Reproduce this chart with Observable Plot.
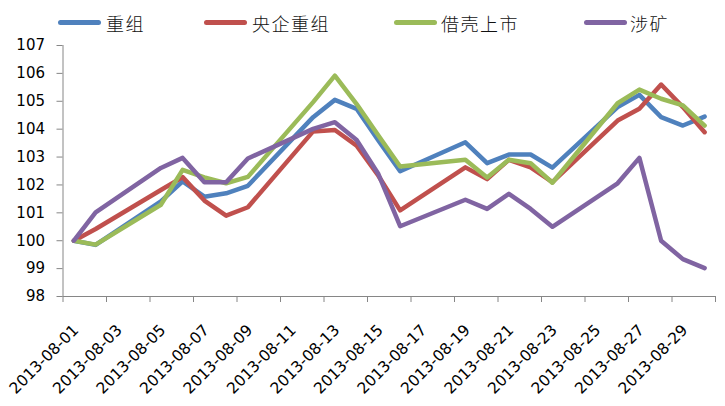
<!DOCTYPE html>
<html><head><meta charset="utf-8">
<script src="https://cdn.jsdelivr.net/npm/d3@7"></script>
<script src="https://cdn.jsdelivr.net/npm/@observablehq/plot@0.6"></script>
<style>
body{margin:0;background:#fff;}
#legend{position:relative;height:36px;width:725px;font-family:"Noto Sans CJK SC",sans-serif;}
.sw{position:absolute;height:5px;border-radius:2.5px;top:20px;width:43px;}
.lb{position:absolute;top:11px;font-size:18px;letter-spacing:1.5px;line-height:24px;color:#111;white-space:nowrap;font-weight:300;}
</style></head><body>
<div id="legend"></div>
<div id="chart"></div>
<script>
const series = ["重组", "央企重组", "借壳上市", "涉矿"];
const colors = ["#4F81BD", "#C0504D", "#9BBB59", "#8064A2"];
const dates = ["2013-08-01","2013-08-02","2013-08-05","2013-08-06","2013-08-07","2013-08-08","2013-08-09",
  "2013-08-12","2013-08-13","2013-08-14","2013-08-15","2013-08-16","2013-08-19","2013-08-20","2013-08-21",
  "2013-08-22","2013-08-23","2013-08-26","2013-08-27","2013-08-28","2013-08-29","2013-08-30"];
const chongzu = [100, 99.85, 101.41, 102.13, 101.58, 101.70, 101.97, 104.43, 105.05, 104.73, 103.59, 102.49,
  103.53, 102.78, 103.09, 103.09, 102.62, 104.79, 105.23, 104.43, 104.13, 104.45];
const yangqi = [100, 100.42, 101.82, 102.28, 101.44, 100.90, 101.20, 103.92, 103.97, 103.41, 102.33, 101.09,
  102.63, 102.21, 102.90, 102.63, 102.10, 104.31, 104.73, 105.60, 104.79, 103.89];
const jieke = [100, 99.86, 101.29, 102.54, 102.27, 102.06, 102.29, 104.97, 105.92, 104.90, 103.77, 102.66,
  102.90, 102.27, 102.90, 102.78, 102.08, 104.93, 105.42, 105.09, 104.85, 104.13];
const shekuang = [100, 101.02, 102.61, 102.97, 102.10, 102.10, 102.95, 104.01, 104.25, 103.61, 102.39, 100.52,
  101.47, 101.14, 101.68, 101.14, 100.50, 102.06, 102.97, 100.00, 99.34, 99.02];
const tickLabels = ["2013-08-01","2013-08-03","2013-08-05","2013-08-07","2013-08-09","2013-08-11","2013-08-13",
  "2013-08-15","2013-08-17","2013-08-19","2013-08-21","2013-08-23","2013-08-25","2013-08-27","2013-08-29"];
const tickBounds = [...tickLabels, "2013-08-31"];
const yTicks = [98, 99, 100, 101, 102, 103, 104, 105, 106, 107];
const xDomain = ["2013-08-01", "2013-08-31"];

// legend (HTML)
const swLeft = [58, 204, 394, 584];
const lbLeft = [106, 252, 441, 630];
const legend = document.getElementById("legend");
series.forEach((s, i) => {
  const sw = document.createElement("div");
  sw.className = "sw"; sw.style.left = swLeft[i] + "px"; sw.style.background = colors[i];
  const lb = document.createElement("div");
  lb.className = "lb"; lb.style.left = lbLeft[i] + "px"; lb.textContent = s;
  legend.appendChild(sw); legend.appendChild(lb);
});

const parse = d3.utcParse("%Y-%m-%d");
const mid = s => d3.utcHour.offset(parse(s), 12);
const valueLists = [chongzu, yangqi, jieke, shekuang];
const rows = [];
series.forEach((s, i) => dates.forEach((d, j) => rows.push({series: s, date: mid(d), value: valueLists[i][j]})));

const axisColor = "#868686";
const fmt = d3.utcFormat("%Y-%m-%d");

const chart = Plot.plot({
  width: 725,
  height: 370,
  marginTop: 9,
  marginBottom: 110,
  marginLeft: 62.5,
  marginRight: 10,
  style: {fontFamily: "DejaVu Sans", background: "#fff"},
  x: {type: "utc", domain: xDomain.map(parse)},
  y: {domain: [98, 107]},
  color: {domain: series, range: colors},
  marks: [
    Plot.axisY(yTicks, {tickSize: 6, tickPadding: 12, stroke: axisColor, fill: "#000", fontSize: 15, label: null}),
    Plot.axisX(tickBounds.map(parse), {tickSize: 6, tickFormat: () => "", stroke: axisColor, label: null}),
    Plot.ruleX([parse(xDomain[0])], {stroke: axisColor}),
    Plot.ruleY([98], {stroke: axisColor}),
    Plot.text(tickLabels.map(mid), {x: d => d, frameAnchor: "bottom", text: d => fmt(d), rotate: -45,
      textAnchor: "end", lineAnchor: "middle", dx: 2, dy: 31, fontSize: 15.5, fill: "#000"}),
    Plot.line(rows, {x: "date", y: "value", z: "series", stroke: "series", strokeWidth: 4.5,
      strokeLinejoin: "round", strokeLinecap: "round"})
  ]
});
document.getElementById("chart").appendChild(chart);
</script>
</body></html>
